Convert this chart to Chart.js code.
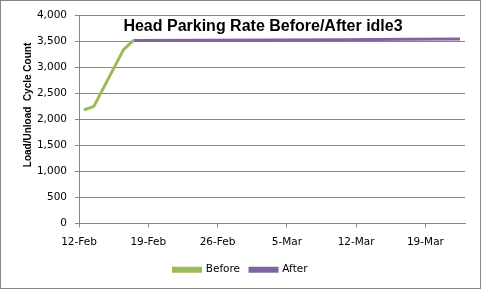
<!DOCTYPE html>
<html lang="en">
<head>
    <meta charset="UTF-8">
    <title>Head Parking Rate Before/After idle3</title>
    <script src="https://cdn.jsdelivr.net/npm/chart.js"></script>
    <style>
        html, body { margin: 0; padding: 0; background: #fff; }
        #wrap { width: 481px; height: 289px; }
    </style>
</head>
<body>
    <div id="wrap"><canvas id="chart" width="481" height="289"></canvas></div>

    <script>
        // Data
        const chartTitle = 'Head Parking Rate Before/After idle3';
        const yAxisTitle = 'Load/Unload  Cycle Count';
        const startDate = '2013-02-12';
        const endDay = 39;
        const tickDays = [0, 7, 14, 21, 28, 35];
        const tickLabels = ['12-Feb', '19-Feb', '26-Feb', '5-Mar', '12-Mar', '19-Mar'];

        const beforeDates = ['2013-02-12', '2013-02-13', '2013-02-16', '2013-02-17'];
        const beforeValues = [2178, 2247, 3337, 3512];

        const afterDates = ['2013-02-17', '2013-02-24', '2013-03-03', '2013-03-10', '2013-03-17', '2013-03-22'];
        const afterValues = [3512, 3516, 3521, 3527, 3533, 3538];

        // Excel puts each daily point in the middle of its day
        function dayOf(d) {
            return (Date.parse(d) - Date.parse(startDate)) / 86400000 + 0.5;
        }
        function toPoints(dates, values) {
            return dates.map((d, i) => ({ x: dayOf(d), y: values[i] }));
        }

        const gridColor = '#868686';
        const fontFamily = '"DejaVu Sans", sans-serif';

        // white background, outer frame and the two Excel-style titles
        const frame = {
            id: 'frame',
            beforeDraw(chart) {
                const c = chart.ctx;
                c.save();
                c.fillStyle = '#fff';
                c.fillRect(0, 0, chart.width, chart.height);
                c.restore();
            },
            afterDraw(chart) {
                const c = chart.ctx;
                c.save();
                c.strokeStyle = gridColor;
                c.lineWidth = 1;
                c.strokeRect(0.5, 0.5, chart.width - 1, chart.height - 1);

                c.fillStyle = '#000';
                c.textAlign = 'center';
                c.textBaseline = 'alphabetic';
                c.font = 'bold 16px "Liberation Sans", sans-serif';
                c.fillText(chartTitle, 263, 31);

                c.translate(31, 105);
                c.rotate(-Math.PI / 2);
                c.font = 'bold 10px "Liberation Sans", sans-serif';
                c.fillText(yAxisTitle, 0, 0);
                c.restore();
            }
        };

        const ctx = document.getElementById('chart').getContext('2d');
        new Chart(ctx, {
            type: 'line',
            data: {
                datasets: [{
                    label: 'Before',
                    data: toPoints(beforeDates, beforeValues),
                    borderColor: '#9BBB59',
                    backgroundColor: '#9BBB59',
                    borderWidth: 3,
                    pointRadius: 0,
                    tension: 0
                }, {
                    label: 'After',
                    data: toPoints(afterDates, afterValues),
                    borderColor: '#8064A2',
                    backgroundColor: '#8064A2',
                    borderWidth: 3,
                    pointRadius: 0,
                    tension: 0
                }]
            },
            options: {
                responsive: false,
                animation: false,
                devicePixelRatio: 1,
                layout: { padding: { top: 15, right: 0, bottom: 4, left: 0 } },
                scales: {
                    x: {
                        type: 'linear',
                        min: 0,
                        max: endDay,
                        afterBuildTicks: (scale) => {
                            scale.ticks = tickDays.map(v => ({ value: v }));
                        },
                        afterFit: (scale) => { scale.height = 31; },
                        grid: {
                            drawOnChartArea: false,
                            drawTicks: true,
                            tickLength: 4,
                            color: gridColor
                        },
                        border: { color: gridColor },
                        ticks: {
                            autoSkip: false,
                            maxRotation: 0,
                            padding: 8,
                            color: '#000',
                            font: { family: fontFamily, size: 10.5 },
                            callback: (v) => tickLabels[tickDays.indexOf(v)]
                        }
                    },
                    y: {
                        min: 0,
                        max: 4000,
                        afterFit: (scale) => { scale.width = 79; },
                        grid: {
                            color: gridColor,
                            tickLength: 4
                        },
                        border: { color: gridColor },
                        ticks: {
                            stepSize: 500,
                            padding: 8,
                            color: '#000',
                            font: { family: fontFamily, size: 10.5 },
                            callback: (v) => v.toLocaleString('en-US')
                        }
                    },
                    // empty right margin so the legend centres on the whole frame
                    yRight: {
                        position: 'right',
                        afterFit: (scale) => { scale.width = 16; },
                        grid: { display: false },
                        border: { display: false },
                        ticks: { display: false }
                    }
                },
                plugins: {
                    legend: {
                        position: 'bottom',
                        labels: {
                            boxWidth: 27,
                            boxHeight: 3,
                            color: '#000',
                            font: { family: fontFamily, size: 10.5 },
                            padding: 10
                        }
                    },
                    tooltip: { enabled: false }
                }
            },
            plugins: [frame]
        });
    </script>
</body>
</html>
